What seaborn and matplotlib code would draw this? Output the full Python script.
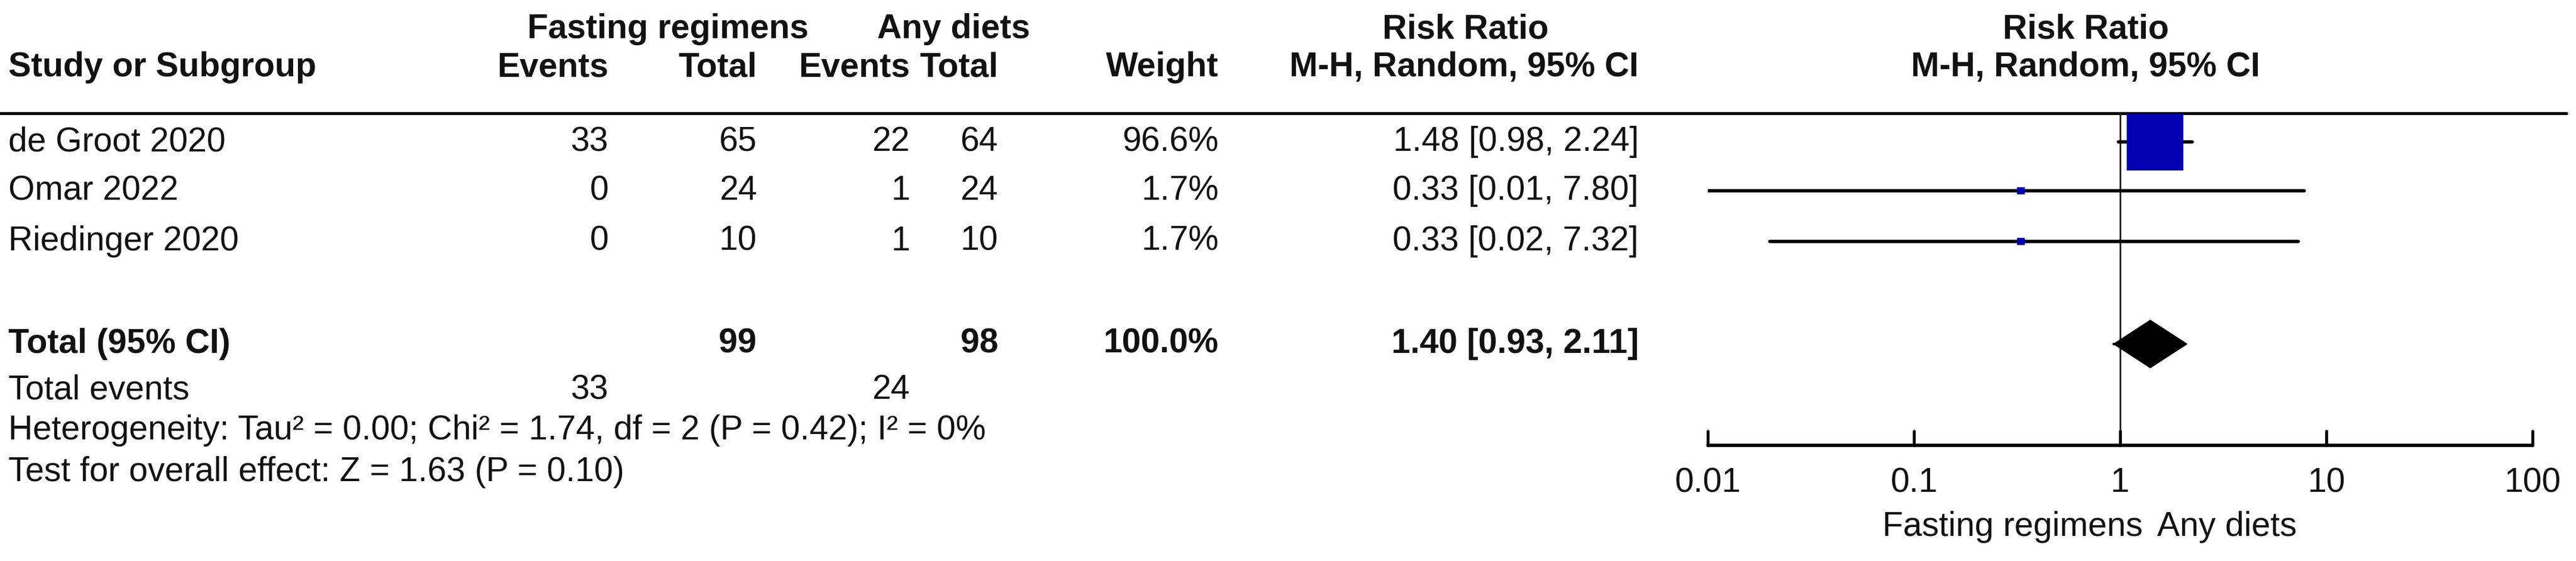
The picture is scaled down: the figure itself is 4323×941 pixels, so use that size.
import numpy as np
import pandas as pd
import matplotlib
matplotlib.use("Agg")
import matplotlib.pyplot as plt
import seaborn as sns

studies = ["de Groot 2020", "Omar 2022", "Riedinger 2020"]
fast_events = [33, 0, 0]
fast_total = [65, 24, 10]
any_events = [22, 1, 1]
any_total = [64, 24, 10]
weights = [96.6, 1.7, 1.7]
rr = [1.48, 0.33, 0.33]
lo = [0.98, 0.01, 0.02]
hi = [2.24, 7.80, 7.32]
tot_rr, tot_lo, tot_hi = 1.40, 0.93, 2.11
ticks = [0.01, 0.1, 1, 10, 100]
tick_labels = ["0.01", "0.1", "1", "10", "100"]

sns.set_theme(style="white")
plt.rcParams["font.family"] = ["Liberation Sans", "DejaVu Sans"]

W, H = 4323, 941
fig = plt.figure(figsize=(W / 100, H / 100), dpi=100)
bg = fig.add_axes([0, 0, 1, 1])
bg.set_xlim(0, W)
bg.set_ylim(H, 0)
bg.axis("off")

fs = 41
row_y = [238, 320, 405]
tot_y = 577

def t(x, y, s, ha="left", bold=False):
    bg.text(x, y, s, ha=ha, va="center", fontsize=fs,
            fontweight="bold" if bold else "normal", color="#111111")

# headers
t(1121, 49, "Fasting regimens", "center", True)
t(1600, 49, "Any diets", "center", True)
t(2459, 49, "Risk Ratio", "center", True)
t(3500, 49, "Risk Ratio", "center", True)
t(14, 113, "Study or Subgroup", bold=True)
t(1021, 113, "Events", "right", True)
t(1270, 113, "Total", "right", True)
t(1527, 113, "Events", "right", True)
t(1675, 113, "Total", "right", True)
t(2045, 113, "Weight", "right", True)
t(2750, 113, "M-H, Random, 95% CI", "right", True)
t(3500, 113, "M-H, Random, 95% CI", "center", True)
bg.plot([0, 4307], [190, 190], color="black", lw=3.5)

for i, s in enumerate(studies):
    y = row_y[i]
    t(14, y, s)
    t(1021, y, str(fast_events[i]), "right")
    t(1270, y, str(fast_total[i]), "right")
    t(1527, y, str(any_events[i]), "right")
    t(1675, y, str(any_total[i]), "right")
    t(2045, y, f"{weights[i]:.1f}%", "right")
    t(2750, y, f"{rr[i]:.2f} [{lo[i]:.2f}, {hi[i]:.2f}]", "right")

t(14, tot_y, "Total (95% CI)", bold=True)
t(1270, tot_y, str(sum(fast_total)), "right", True)
t(1675, tot_y, str(sum(any_total)), "right", True)
t(2045, tot_y, "100.0%", "right", True)
t(2750, tot_y, f"{tot_rr:.2f} [{tot_lo:.2f}, {tot_hi:.2f}]", "right", True)
t(14, 654, "Total events")
t(1021, 654, str(sum(fast_events)), "right")
t(1527, 654, str(sum(any_events)), "right")
t(14, 722, "Heterogeneity: Tau\u00b2 = 0.00; Chi\u00b2 = 1.74, df = 2 (P = 0.42); I\u00b2 = 0%")
t(14, 792, "Test for overall effect: Z = 1.63 (P = 0.10)")

# forest panel: pixel x 2866..4250 for 0.01..100, pixel y 190..749
x0, x1, ytop, ybot = 2866, 4250, 190, 749
ax = fig.add_axes([x0 / W, 1 - ybot / H, (x1 - x0) / W, (ybot - ytop) / H])
ax.set_xscale("log")
ax.patch.set_alpha(0)

ax.plot([1, 1], [ytop, ybot], color="#2a1a10", lw=2)
for i in range(3):
    ax.plot([lo[i], hi[i]], [row_y[i], row_y[i]], color="black", lw=4, zorder=2)
df = pd.DataFrame({"rr": rr, "y": row_y, "w": weights})
side_px = 95 * np.sqrt(df["w"] / max(weights))
df["size"] = (side_px * 0.72) ** 2
sns.scatterplot(data=df, x="rr", y="y", size="size", sizes=(df["size"].min(), df["size"].max()),
                marker="s", color="#0000b0", edgecolor="none", legend=False, ax=ax, zorder=3)
ax.set_xlim(0.01, 100)
ax.set_ylim(ybot, ytop)
ax.axis("off")

ax.fill([tot_lo, tot_rr, tot_hi, tot_rr], [tot_y, tot_y - 40, tot_y, tot_y + 40],
        color="black", zorder=3)
ax.plot([0.93, 1], [tot_y, tot_y], color="black", lw=3)

# axis line and ticks
ax.plot([0.01, 100], [ybot - 2, ybot - 2], color="black", lw=4, clip_on=False)
for tk, lab in zip(ticks, tick_labels):
    ax.plot([tk, tk], [ybot - 2, ybot - 26], color="black", lw=3.5, clip_on=False)
    ax.text(tk, 810, lab, ha="center", va="center", fontsize=fs, color="#111111")
ax.text(0.3, 884, "Fasting regimens", ha="center", va="center", fontsize=fs, color="#111111")
ax.text(3.3, 884, "Any diets", ha="center", va="center", fontsize=fs, color="#111111")

fig.savefig("out.png", dpi=100, facecolor="white")
